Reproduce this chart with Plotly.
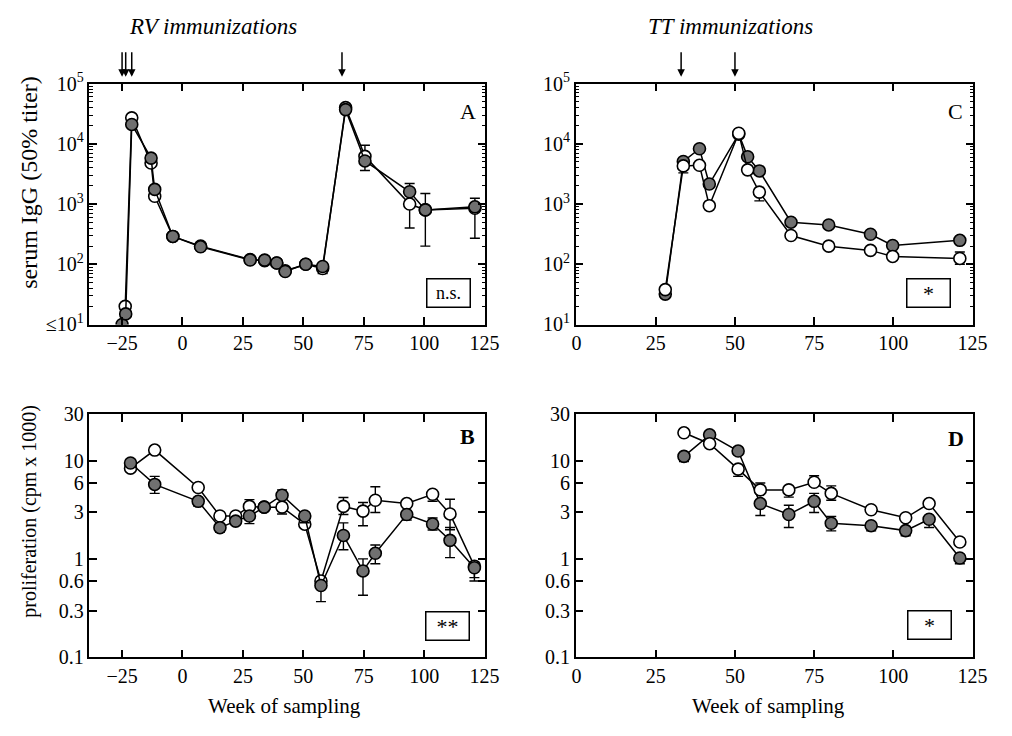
import plotly.graph_objects as go

# ---------------- DATA ----------------
# Panel A: RV serum IgG (50% titer)
A_weeks_open = [-23.7, -21, -13, -11.5, -4, 7.5, 28, 34, 39, 42.5, 51, 58, 67.5, 75.5, 94, 100.5, 121]
A_open = [20, 27000, 4800, 1350, 290, 200, 120, 115, 105, 78, 100, 85, 40000, 6200, 1000, 800, 850]
A_open_plus = [0, 0, 0, 0, 0, 0, 0, 0, 0, 0, 0, 10, 0, 3300, 0, 0, 0]
A_open_minus = [0, 0, 0, 0, 0, 0, 0, 0, 0, 0, 0, 15, 0, 0, 600, 600, 580]
A_weeks_filled = [-25, -23.5, -21, -13, -11.5, -4, 7.5, 28, 34, 39, 42.5, 51, 58, 67.5, 75.5, 94, 100.5, 121]
A_filled = [10, 15, 21000, 5800, 1750, 290, 195, 118, 117, 105, 76, 100, 92, 37000, 5200, 1600, 800, 900]
A_filled_plus = [0, 0, 0, 0, 0, 0, 0, 0, 0, 0, 0, 0, 10, 0, 0, 600, 700, 350]
A_filled_minus = [0, 0, 0, 0, 0, 0, 0, 0, 0, 0, 0, 0, 15, 0, 1600, 0, 0, 0]

# Panel B: RV proliferation (cpm x 1000)
B_weeks = [-21.5, -11.5, 6.5, 15.5, 22, 27.7, 33.8, 41.2, 50.6, 57.3, 66.6, 74.7, 79.8, 92.8, 103.5, 110.7, 120.8]
B_open = [8.5, 13, 5.4, 2.76, 2.76, 3.46, 3.4, 3.4, 2.28, 0.6, 3.46, 3.1, 4.0, 3.7, 4.6, 2.9, 0.85]
B_open_plus = [0, 0, 0, 0, 0, 0.6, 0, 0, 0, 0, 0.8, 0.7, 1.5, 0, 0, 1.2, 0]
B_open_minus = [0, 0, 0, 0, 0, 0, 0, 0.5, 0, 0, 0.6, 0.9, 1.0, 0, 0.7, 0.9, 0.2]
B_filled = [9.6, 5.8, 3.9, 2.1, 2.45, 2.76, 3.4, 4.5, 2.76, 0.54, 1.75, 0.76, 1.15, 2.86, 2.29, 1.56, 0.82]
B_filled_plus = [0, 1.2, 0, 0, 0, 0, 0, 0.6, 0, 0, 0.6, 0.25, 0.25, 0, 0.35, 0.55, 0]
B_filled_minus = [0, 1.1, 0.4, 0.2, 0, 0.45, 0, 0, 0.4, 0.17, 0.5, 0.33, 0.25, 0.35, 0.3, 0.52, 0.22]

# Panel C: TT serum IgG (50% titer)
C_weeks = [28, 33.7, 38.8, 41.9, 51.2, 54, 57.7, 67.7, 79.6, 92.8, 99.8, 121]
C_open = [38, 4300, 4400, 940, 15000, 3700, 1580, 300, 200, 170, 135, 125]
C_open_plus = [0, 0, 0, 0, 0, 0, 0, 0, 0, 0, 0, 35]
C_open_minus = [0, 1000, 0, 0, 0, 0, 450, 0, 0, 0, 15, 25]
C_filled = [32, 5100, 8300, 2150, 14500, 6100, 3550, 500, 450, 315, 205, 250]
C_filled_plus = [0] * 12
C_filled_minus = [0] * 12

# Panel D: TT proliferation (cpm x 1000)
D_weeks = [33.9, 42, 51, 58, 67, 75, 80.4, 93, 103.9, 111.3, 121]
D_open = [19.5, 15.1, 8.3, 5.1, 5.1, 6.1, 4.7, 3.2, 2.65, 3.7, 1.5]
D_open_plus = [0.8, 0, 0, 0.9, 0, 1.0, 0.9, 0, 0, 0, 0]
D_open_minus = [0, 0, 1.3, 0, 0.8, 0, 0.7, 0, 0, 0, 0]
D_filled = [11.2, 18.6, 12.7, 3.7, 2.86, 3.9, 2.33, 2.2, 1.96, 2.56, 1.03]
D_filled_plus = [0, 1.0, 0, 0, 0.7, 0.8, 0.4, 0, 0, 0, 0]
D_filled_minus = [1.3, 0, 0, 0.9, 0.75, 0.9, 0.38, 0.25, 0.22, 0.45, 0.13]

RV_immunization_weeks = [-25, -23.5, -21, 66]
TT_immunization_weeks = [33, 50]

titer_ticks = [10, 100, 1000, 10000, 100000]
titer_labels_A = ["\u226410<sup>1</sup>", "10<sup>2</sup>", "10<sup>3</sup>", "10<sup>4</sup>", "10<sup>5</sup>"]
titer_labels_C = ["10<sup>1</sup>", "10<sup>2</sup>", "10<sup>3</sup>", "10<sup>4</sup>", "10<sup>5</sup>"]
prolif_ticks = [0.1, 0.3, 0.6, 1, 3, 6, 10, 30]
prolif_labels = ["0.1", "0.3", "0.6", "1", "3", "6", "10", "30"]
week_ticks_RV = [-25, 0, 25, 50, 75, 100, 125]
week_ticks_TT = [0, 25, 50, 75, 100, 125]

panel_letters = ["A", "B", "C", "D"]
signif_labels = ["n.s.", "**", "*", "*"]

# ---------------- FIGURE ----------------
W, H = 1012, 736
FONT = "Liberation Serif"
fig = go.Figure()

def px_x(p):
    return p / W

def px_y(p):
    return 1 - p / H

def add_series(xs, ys, plus, minus, xa, ya, filled):
    fig.add_trace(go.Scatter(
        x=xs, y=ys, mode="lines+markers", xaxis=xa, yaxis=ya, showlegend=False,
        line=dict(color="black", width=1.5),
        marker=dict(size=12, symbol="circle",
                    color="#707070" if filled else "white",
                    line=dict(color="black", width=1.6)),
        error_y=dict(type="data", symmetric=False, array=plus, arrayminus=minus,
                     color="black", thickness=1.4, width=5),
    ))

add_series(A_weeks_open, A_open, A_open_plus, A_open_minus, "x", "y", False)
add_series(A_weeks_filled, A_filled, A_filled_plus, A_filled_minus, "x", "y", True)
add_series(B_weeks, B_open, B_open_plus, B_open_minus, "x2", "y2", False)
add_series(B_weeks, B_filled, B_filled_plus, B_filled_minus, "x2", "y2", True)
add_series(C_weeks, C_filled, C_filled_plus, C_filled_minus, "x3", "y3", True)
add_series(C_weeks, C_open, C_open_plus, C_open_minus, "x3", "y3", False)
add_series(D_weeks, D_filled, D_filled_plus, D_filled_minus, "x4", "y4", True)
add_series(D_weeks, D_open, D_open_plus, D_open_minus, "x4", "y4", False)

left_dom = [px_x(87), px_x(490)]
right_dom = [px_x(582), px_x(987)]
top_dom = [px_y(322), px_y(73)]
bot_dom = [px_y(666), px_y(415)]

tickfont = dict(family=FONT, size=20, color="black")
axis_common = dict(showline=True, linecolor="black", linewidth=1.5, mirror="ticks",
                   ticks="inside", ticklen=8, tickwidth=1.5, tickcolor="black",
                   showgrid=False, zeroline=False, tickfont=tickfont)

titer_minor = [k * 10 ** d for d in range(1, 5) for k in range(2, 10)]

fig.update_layout(
    width=W, height=H, margin=dict(l=0, r=0, t=0, b=0),
    paper_bgcolor="white", plot_bgcolor="white",
    font=dict(family=FONT, color="black"),
    xaxis=dict(domain=left_dom, anchor="y", range=[-38.5, 125.3], tickmode="array",
               tickvals=week_ticks_RV, **axis_common),
    yaxis=dict(domain=top_dom, anchor="x", type="log", range=[1, 5], tickmode="array",
               tickvals=titer_ticks, ticktext=titer_labels_A,
               minor=dict(tickmode="array", tickvals=titer_minor, ticks="inside", ticklen=4,
                          tickcolor="black", tickwidth=1),
               **axis_common),
    xaxis2=dict(domain=left_dom, anchor="y2", range=[-38.5, 125.3], tickmode="array",
                tickvals=week_ticks_RV, **axis_common),
    yaxis2=dict(domain=bot_dom, anchor="x2", type="log", range=[-1, 1.4771],
                tickmode="array", tickvals=prolif_ticks, ticktext=prolif_labels, **axis_common),
    xaxis3=dict(domain=right_dom, anchor="y3", range=[-0.3, 125.3], tickmode="array",
                tickvals=week_ticks_TT, **axis_common),
    yaxis3=dict(domain=top_dom, anchor="x3", type="log", range=[1, 5], tickmode="array",
                tickvals=titer_ticks, ticktext=titer_labels_C,
                minor=dict(tickmode="array", tickvals=titer_minor, ticks="inside", ticklen=4,
                           tickcolor="black", tickwidth=1),
                **axis_common),
    xaxis4=dict(domain=right_dom, anchor="y4", range=[-0.3, 125.3], tickmode="array",
                tickvals=week_ticks_TT, **axis_common),
    yaxis4=dict(domain=bot_dom, anchor="x4", type="log", range=[-1, 1.4771],
                tickmode="array", tickvals=prolif_ticks, ticktext=prolif_labels, **axis_common),
)

ann = []
txtfont = dict(family=FONT, size=21, color="black")

def text_ann(text, x, y, **kw):
    d = dict(text=text, x=px_x(x), y=px_y(y), xref="paper", yref="paper",
             showarrow=False, xanchor="center", yanchor="middle", font=txtfont)
    d.update(kw)
    return d

# Titles
ann.append(text_ann("<i>RV immunizations</i>", 213, 14, font=dict(family=FONT, size=23, color="black")))
ann.append(text_ann("<i>TT immunizations</i>", 740, 14, font=dict(family=FONT, size=23, color="black")))

# Immunization arrows
for w in RV_immunization_weeks:
    ann.append(dict(x=w, y=px_y(66), xref="x", yref="paper", text="", showarrow=True,
                    ax=0, ay=-26, arrowhead=2, arrowsize=1, arrowwidth=1.5, arrowcolor="black"))
for w in TT_immunization_weeks:
    ann.append(dict(x=w, y=px_y(66), xref="x3", yref="paper", text="", showarrow=True,
                    ax=0, ay=-26, arrowhead=2, arrowsize=1, arrowwidth=1.5, arrowcolor="black"))

# Axis titles
ann.append(text_ann("serum IgG (50% titer)", 26, 175, textangle=-90,
                    font=dict(family=FONT, size=24, color="black")))
ann.append(text_ann("proliferation (cpm x 1000)", 26, 515, textangle=-90,
                    font=dict(family=FONT, size=20, color="black")))
ann.append(text_ann("Week of sampling", 286, 716))
ann.append(text_ann("Week of sampling", 778, 716))

# Panel letters
letter_pos = [(472, 102), (472, 438), (969, 102), (969, 440)]
for lab, (lx, ly), bold in zip(panel_letters, letter_pos, [False, True, False, True]):
    ann.append(text_ann(f"<b>{lab}</b>" if bold else lab, lx, ly,
                        font=dict(family=FONT, size=22, color="black")))

# Significance boxes
box_pos = [(453, 289), (452, 634), (941, 289), (942, 633)]
for lab, (bx, by) in zip(signif_labels, box_pos):
    ann.append(text_ann(lab, bx, by, width=38, height=23, bordercolor="black", borderwidth=1.5,
                        borderpad=2, bgcolor="white",
                        font=dict(family=FONT, size=18 if lab == "n.s." else 22, color="black")))

fig.update_layout(annotations=ann)
fig.write_html("out.html")
